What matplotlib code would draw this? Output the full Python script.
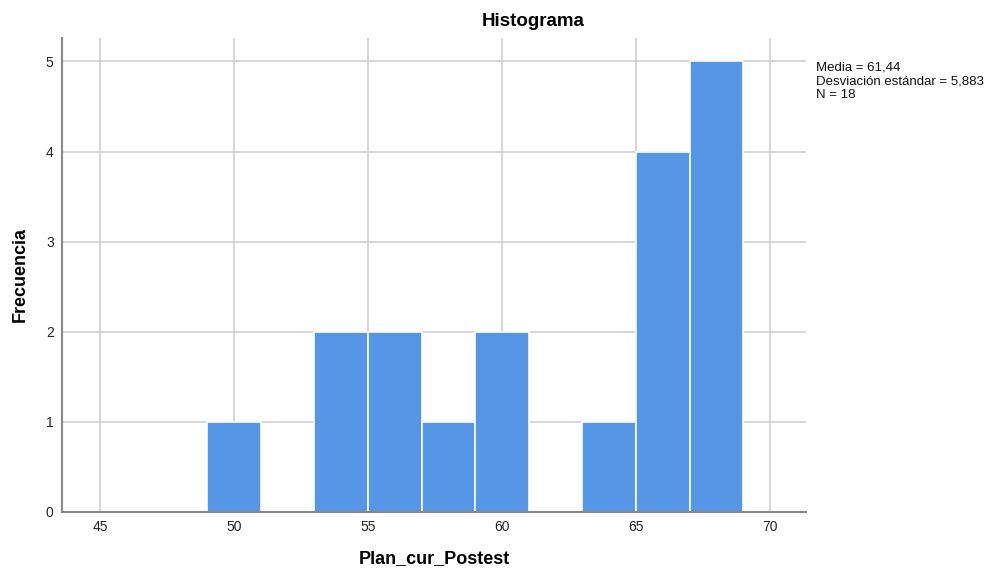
import matplotlib
matplotlib.use("Agg")
from matplotlib import pyplot as plt

# histogram bins (left edge, width 2) and counts
bin_left = [45, 47, 49, 51, 53, 55, 57, 59, 61, 63, 65, 67]
counts = [0, 0, 1, 0, 2, 2, 1, 2, 0, 1, 4, 5]
bin_width = 2

x_ticks = [45, 50, 55, 60, 65, 70]
y_ticks = [0, 1, 2, 3, 4, 5]

stats_lines = ["Media = 61,44", "Desviación estándar = 5,883", "N = 18"]

plt.rcParams['font.family'] = ['Liberation Sans', 'DejaVu Sans']

fig = plt.figure(figsize=(9.97, 5.70), dpi=100)
ax = fig.add_axes([0.0622, 0.1018, 0.7462, 0.8315])

ax.bar(bin_left, counts, width=bin_width, align='edge',
       color='#5596e6', edgecolor='white', linewidth=1.2, zorder=2)

ax.set_xlim(43.58, 71.34)
ax.set_ylim(0, 5.26)
ax.set_xticks(x_ticks)
ax.set_yticks(y_ticks)
ax.tick_params(length=0, labelsize=10, colors='#222222', pad=6)

ax.grid(True, color='#cccccc', linewidth=1.1, zorder=0)
ax.set_axisbelow(True)

for side in ['top', 'right']:
    ax.spines[side].set_visible(False)
for side in ['left', 'bottom']:
    ax.spines[side].set_color('#888888')
    ax.spines[side].set_linewidth(1.5)
    ax.spines[side].set_zorder(3)

ax.set_xlabel('Plan_cur_Postest', fontsize=13, fontweight='bold', labelpad=11)
ax.set_ylabel('Frecuencia', fontsize=13, fontweight='bold', labelpad=12)

fig.text(533 / 997, 1 - 22 / 570, 'Histograma', ha='center', va='center',
         fontsize=13.5, fontweight='bold')

fig.text(816 / 997, 1 - 62 / 570, "\n".join(stats_lines), ha='left', va='top',
         fontsize=9.5, linespacing=1.15, color='#111111')

fig.savefig('out.png', dpi=100)
